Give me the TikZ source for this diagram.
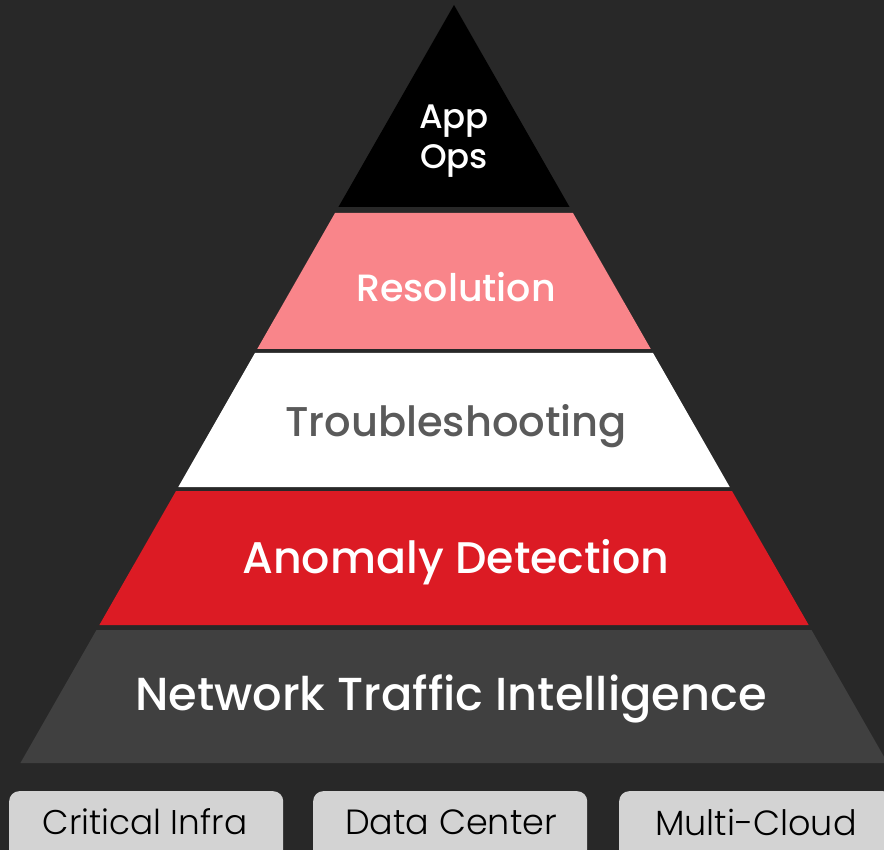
\documentclass[tikz,border=0pt]{standalone}
\usepackage{fontspec}
\setmainfont{Poppins}
\newfontfamily\layerfont{Poppins Medium}
\newfontfamily\boxfont{Poppins Light}
\definecolor{bgdark}{HTML}{282828}
\definecolor{layerpink}{HTML}{F9858A}
\definecolor{layerred}{HTML}{DC1B24}
\definecolor{layergray}{HTML}{404040}
\definecolor{boxgray}{HTML}{D3D3D3}
\definecolor{textgray}{HTML}{5A5A5A}

\begin{document}
\begin{tikzpicture}[x=1pt,y=-1pt,
  layer text/.style={text=white,align=center,font=\layerfont},
  base box/.style={fill=boxgray,rounded corners=10pt,minimum width=274pt,minimum height=80pt,anchor=north west,inner sep=0pt}]

  \fill[bgdark] (0,0) rectangle (884,850);
  \useasboundingbox (0,0) rectangle (884,850);

  % pyramid layers: top / bottom / colour
  \foreach \ytop/\ybot/\col in {5/207/black, 213/349/layerpink, 353/487/white,
                               491/625/layerred, 630/763/layergray}
    \fill[\col] ({454-0.572*(\ytop-5)},\ytop) -- ({454+0.572*(\ytop-5)},\ytop)
       -- ({454+0.572*(\ybot-5)},\ybot) -- ({454-0.572*(\ybot-5)},\ybot) -- cycle;

  \node[layer text,font=\layerfont\fontsize{34}{40}\selectfont] (appops) at (454,141) {App\\Ops};
  \node[layer text,font=\layerfont\fontsize{38}{45}\selectfont] (resolution) at (456,287) {Resolution};
  \node[layer text,text=textgray,font=\layerfont\fontsize{41.6}{50}\selectfont] (trouble) at (456,426) {Troubleshooting};
  \node[layer text,font=\layerfont\fontsize{44.3}{52}\selectfont] (anomaly) at (456,562) {Anomaly Detection};
  \node[layer text,font=\layerfont\fontsize{46.3}{54}\selectfont] (network) at (451,699) {Network Traffic Intelligence};

  \node[base box] (infra) at (9,791) {};
  \node[base box] (datacenter) at (313,791) {};
  \node[base box] (cloud) at (619,791) {};

  \node[font=\boxfont\fontsize{34.3}{42}\selectfont] (infratext) at (145,822) {Critical Infra};
  \node[font=\boxfont\fontsize{35}{42}\selectfont] (dctext) at (451,822) {Data Center};
  \node[font=\boxfont\fontsize{35}{42}\selectfont] (cloudtext) at (756,822) {Multi-Cloud};

\end{tikzpicture}
\end{document}
